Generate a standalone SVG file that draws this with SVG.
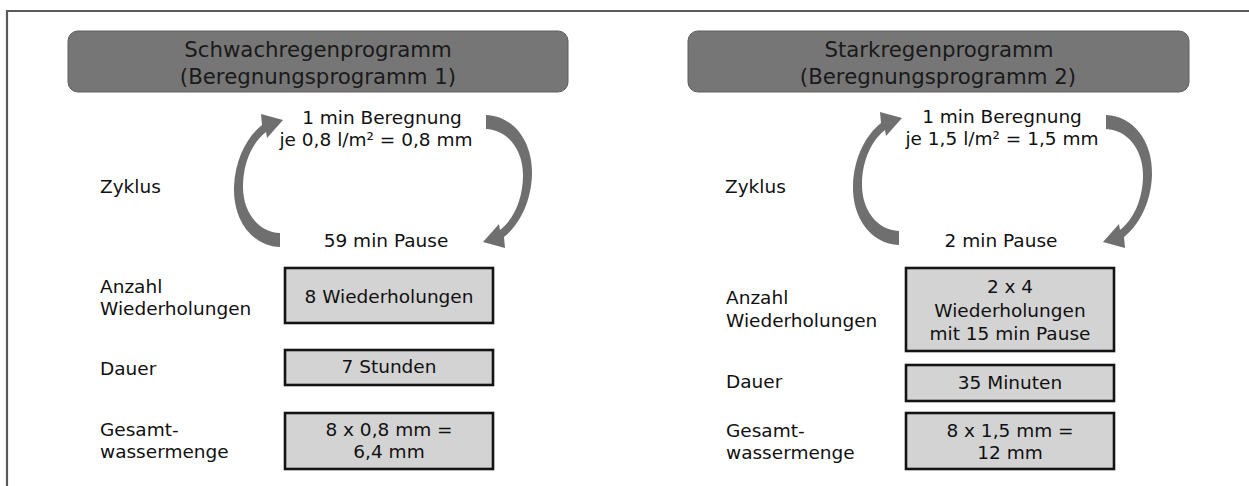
<svg xmlns="http://www.w3.org/2000/svg" width="1249" height="486" viewBox="0 0 1249 486">
  <style>
    text { font-family: "DejaVu Sans", "Open Sans", "Liberation Sans", sans-serif; fill: #111111; font-size: 18.5px; }
    .c { text-anchor: middle; }
    .head { fill: #767676; stroke: #5e5e5e; stroke-width: 1; }
    .head-t { font-size: 21.3px; text-anchor: middle; fill: #1a1a1a; }
    .box { fill: #d3d3d3; stroke: #141414; stroke-width: 2.6; }
    .arc { fill: #6f6f6f; }
    .frame { fill: none; stroke: #5a5a5a; stroke-width: 2.2; }
  </style>
  <defs>
    <!-- curved cycle arrow: tail at the bottom, head pointing up and right -->
    <path id="cycleArc" d="M280,247 C252,246 233,220 234,187 C235,158 248,136 262,125 L261,114 L283,120 L267,138 L266,132 C253,142 243,162 243,187 C243,212 258,232 280,233 Z"/>
  </defs>

  <rect width="1249" height="486" fill="#ffffff"/>
  <!-- frame lines -->
  <path class="frame" d="M7,486 V11 H1249"/>

  <!-- program 1 -->
  <g id="prog1-title">
    <rect class="head" x="68" y="31" width="500" height="61" rx="10"/>
    <text class="head-t" x="318" y="57">Schwachregenprogramm</text>
    <text class="head-t" x="318" y="84">(Beregnungsprogramm 1)</text>
  </g>
  <g id="prog1-rain">
    <text class="c" x="382" y="124">1 min Beregnung</text>
    <text class="c" x="376" y="146">je 0,8 l/m² = 0,8 mm</text>
  </g>
  <g id="prog1-pause">
    <text class="c" x="386" y="247">59 min Pause</text>
  </g>
  <g id="prog1-cycle-label"><text x="100" y="193">Zyklus</text></g>
  <g id="prog1-count-label">
    <text x="100" y="293">Anzahl</text>
    <text x="100" y="315">Wiederholungen</text>
  </g>
  <g id="prog1-count">
    <rect class="box" x="285" y="268" width="208" height="55"/>
    <text class="c" x="389" y="303">8 Wiederholungen</text>
  </g>
  <g id="prog1-duration-label"><text x="100" y="375">Dauer</text></g>
  <g id="prog1-duration">
    <rect class="box" x="285" y="350" width="208" height="35"/>
    <text class="c" x="389" y="373">7 Stunden</text>
  </g>
  <g id="prog1-total-label">
    <text x="100" y="436">Gesamt-</text>
    <text x="100" y="458">wassermenge</text>
  </g>
  <g id="prog1-total">
    <rect class="box" x="285" y="413" width="208" height="56"/>
    <text class="c" x="389" y="436">8 x 0,8 mm =</text>
    <text class="c" x="389" y="458">6,4 mm</text>
  </g>

  <!-- program 2 -->
  <g id="prog2-title">
    <rect class="head" x="688" y="31" width="501" height="61" rx="10"/>
    <text class="head-t" x="939" y="57">Starkregenprogramm</text>
    <text class="head-t" x="938" y="84">(Beregnungsprogramm 2)</text>
  </g>
  <g id="prog2-rain">
    <text class="c" x="1002" y="123">1 min Beregnung</text>
    <text class="c" x="1002" y="145">je 1,5 l/m² = 1,5 mm</text>
  </g>
  <g id="prog2-pause">
    <text class="c" x="1001" y="247">2 min Pause</text>
  </g>
  <g id="prog2-cycle-label"><text x="725" y="193">Zyklus</text></g>
  <g id="prog2-count-label">
    <text x="726" y="304">Anzahl</text>
    <text x="726" y="327">Wiederholungen</text>
  </g>
  <g id="prog2-count">
    <rect class="box" x="906" y="268" width="208" height="83"/>
    <text class="c" x="1010" y="293">2 x 4</text>
    <text class="c" x="1010" y="317">Wiederholungen</text>
    <text class="c" x="1010" y="340">mit 15 min Pause</text>
  </g>
  <g id="prog2-duration-label"><text x="726" y="388">Dauer</text></g>
  <g id="prog2-duration">
    <rect class="box" x="906" y="365" width="208" height="36"/>
    <text class="c" x="1010" y="389">35 Minuten</text>
  </g>
  <g id="prog2-total-label">
    <text x="726" y="437">Gesamt-</text>
    <text x="726" y="459">wassermenge</text>
  </g>
  <g id="prog2-total">
    <rect class="box" x="906" y="413" width="208" height="56"/>
    <text class="c" x="1010" y="437">8 x 1,5 mm =</text>
    <text class="c" x="1010" y="459">12 mm</text>
  </g>

  <!-- cycle arrows -->
  <g id="connectors">
    <use href="#cycleArc" class="arc"/>
    <use href="#cycleArc" class="arc" transform="rotate(180 383 181)"/>
    <use href="#cycleArc" class="arc" transform="translate(619 -2)"/>
    <use href="#cycleArc" class="arc" transform="rotate(180 693 181)"/>
  </g>
</svg>
